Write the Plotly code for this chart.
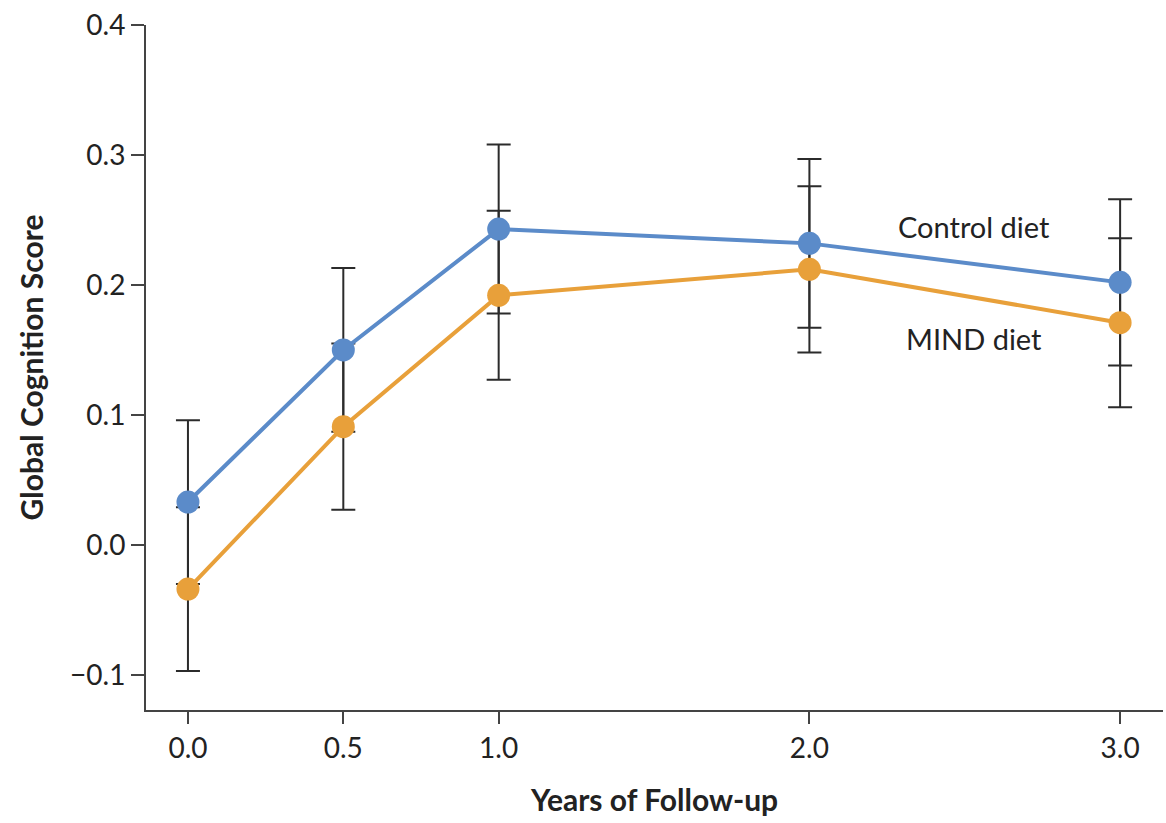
import plotly.graph_objects as go

years = [0.0, 0.5, 1.0, 2.0, 3.0]
tick_labels = ["0.0", "0.5", "1.0", "2.0", "3.0"]
control_mean = [0.033, 0.150, 0.243, 0.232, 0.202]
control_err = [0.063, 0.063, 0.065, 0.065, 0.064]
mind_mean = [-0.034, 0.091, 0.192, 0.212, 0.171]
mind_err = [0.063, 0.064, 0.065, 0.064, 0.065]

BLUE = "#5b8bc9"
ORANGE = "#e8a03a"
DARK = "#2b2b2b"
FONT = "Lato"

fig = go.Figure()

# error bars first (behind lines/markers)
for mean, err in [(control_mean, control_err), (mind_mean, mind_err)]:
    fig.add_trace(go.Scatter(
        x=years, y=mean, mode="markers",
        marker=dict(size=1, color="rgba(0,0,0,0)"),
        error_y=dict(type="data", array=err, visible=True, color=DARK,
                     thickness=2, width=12),
        showlegend=False, hoverinfo="skip"))

fig.add_trace(go.Scatter(
    x=years, y=control_mean, mode="lines+markers", name="Control diet",
    line=dict(color=BLUE, width=4), marker=dict(size=23, color=BLUE),
    showlegend=False))
fig.add_trace(go.Scatter(
    x=years, y=mind_mean, mode="lines+markers", name="MIND diet",
    line=dict(color=ORANGE, width=4), marker=dict(size=23, color=ORANGE),
    showlegend=False))

fig.add_annotation(x=2.53, y=0.245, text="Control diet", showarrow=False,
                   font=dict(family=FONT, size=29, color="#222"))
fig.add_annotation(x=2.53, y=0.159, text="MIND diet", showarrow=False,
                   font=dict(family=FONT, size=29, color="#222"))

fig.update_layout(
    width=1166, height=823,
    margin=dict(l=146, r=3, t=25, b=113),
    paper_bgcolor="white", plot_bgcolor="white",
    font=dict(family=FONT, size=28, color="#222"),
    xaxis=dict(
        range=[-0.135, 3.138], tickmode="array", tickvals=years,
        ticktext=tick_labels, showgrid=False, zeroline=False,
        showline=True, linecolor="#444", linewidth=2,
        ticks="outside", ticklen=12, tickwidth=2, tickcolor="#444",
        tickfont=dict(family=FONT, size=28, color="#222"),
        title=dict(text="<b>Years of Follow-up</b>",
                   font=dict(family=FONT, size=30, color="#222"), standoff=27)),
    yaxis=dict(
        range=[-0.127, 0.4], tickmode="array",
        tickvals=[-0.1, 0.0, 0.1, 0.2, 0.3, 0.4],
        ticktext=["\u22120.1", "0.0", "0.1", "0.2", "0.3", "0.4"],
        showgrid=False, zeroline=False,
        showline=True, linecolor="#444", linewidth=2,
        ticks="outside", ticklen=13, tickwidth=2, tickcolor="#444",
        tickfont=dict(family=FONT, size=28, color="#222"),
        title=dict(text="<b>Global Cognition Score</b>",
                   font=dict(family=FONT, size=30, color="#222"), standoff=18)),
)

fig.write_html("out.html", config={"displayModeBar": False},
               post_script="document.body.style.margin='0';")
